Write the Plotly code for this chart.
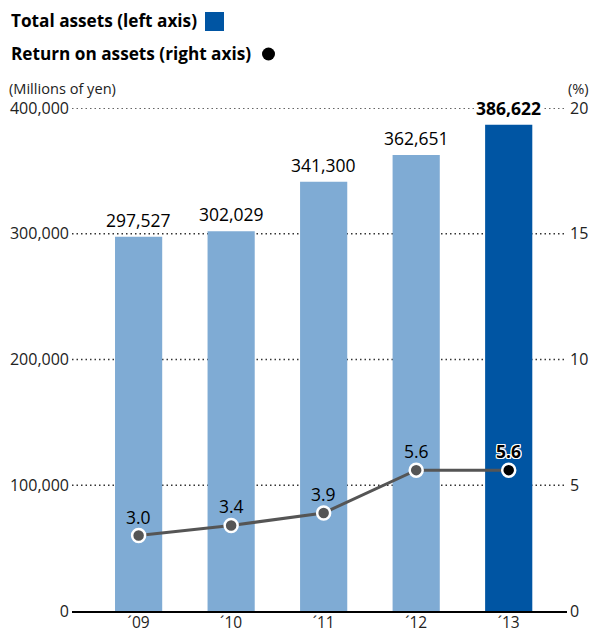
import plotly.graph_objects as go

# Fiscal years and figures
years = ["\u00b409", "\u00b410", "\u00b411", "\u00b412", "\u00b413"]
total_assets = [297527, 302029, 341300, 362651, 386622]   # millions of yen
roa = [3.0, 3.4, 3.9, 5.6, 5.6]                           # percent
left_ticks = [0, 100000, 200000, 300000, 400000]
right_ticks = [0, 5, 10, 15, 20]

FONT = "Open Sans"
LIGHT = "#7FABD4"
DARK = "#0055A3"
LINE = "#555555"

bar_colors = [LIGHT] * (len(years) - 1) + [DARK]
marker_colors = [LINE] * (len(years) - 1) + ["#000000"]

fig = go.Figure()
fig.add_trace(go.Bar(
    x=years, y=total_assets, marker=dict(color=bar_colors, line=dict(width=0)),
    width=0.51, hoverinfo="skip", showlegend=False,
))
fig.add_trace(go.Scatter(
    x=years, y=roa, yaxis="y2", mode="lines+markers",
    line=dict(color=LINE, width=3),
    marker=dict(color=marker_colors, size=13, line=dict(color="white", width=2.5)),
    hoverinfo="skip", showlegend=False, cliponaxis=False,
))

annotations = []
last = len(years) - 1
for i, (yr, v) in enumerate(zip(years, total_assets)):
    annotations.append(dict(
        x=yr, y=v, xref="x", yref="y", text=f"{v:,}", showarrow=False,
        yanchor="middle", yshift=17,
        font=dict(family=FONT, size=17.5, color="#000000",
                  weight="bold" if i == last else "normal"),
        bgcolor="white" if i == last else "rgba(0,0,0,0)",
    ))
halo = "1px 1px 0 #fff, -1px -1px 0 #fff, 1px -1px 0 #fff, -1px 1px 0 #fff, 0 1px 0 #fff, 0 -1px 0 #fff, 1px 0 0 #fff, -1px 0 0 #fff"
for i, (yr, v) in enumerate(zip(years, roa)):
    annotations.append(dict(
        x=yr, y=v, xref="x", yref="y2", text=f"{v:.1f}", showarrow=False,
        yanchor="middle", yshift=19,
        font=dict(family=FONT, size=17.5, color="#000000",
                  weight="bold" if i == last else "normal",
                  shadow=halo if i == last else "none"),
    ))

# Legend lines and unit captions
annotations += [
    dict(x=9, y=21, xref="paper", yref="paper", text="<b>Total assets (left axis)</b>",
         showarrow=False, xanchor="left", yanchor="middle",
         font=dict(family=FONT, size=17.2, color="#000")),
    dict(x=9, y=54, xref="paper", yref="paper", text="<b>Return on assets (right axis)</b>",
         showarrow=False, xanchor="left", yanchor="middle",
         font=dict(family=FONT, size=17.2, color="#000")),
    dict(x=7, y=88, xref="paper", yref="paper", text="(Millions of yen)",
         showarrow=False, xanchor="left", yanchor="middle",
         font=dict(family=FONT, size=14.6, color="#222")),
    dict(x=591, y=88, xref="paper", yref="paper", text="(%)",
         showarrow=False, xanchor="right", yanchor="middle",
         font=dict(family=FONT, size=14.6, color="#222")),
]

# paper coordinates are converted from pixel positions below
W, H = 597, 635
ML, MR, MT, MB = 72, 30, 108, 24
PW, PH = W - ML - MR, H - MT - MB


def px_x(p):
    return (p - ML) / PW


def px_y(p):
    return (H - MB - p) / PH


for a in annotations:
    if a["xref"] == "paper":
        a["x"] = px_x(a["x"])
        a["y"] = px_y(a["y"])

shapes = [
    dict(type="rect", xref="paper", yref="paper",
         x0=px_x(205), x1=px_x(224), y0=px_y(31), y1=px_y(12),
         fillcolor=DARK, line=dict(width=0)),
    dict(type="circle", xref="paper", yref="paper",
         x0=px_x(262), x1=px_x(275), y0=px_y(60.5), y1=px_y(47.5),
         fillcolor="#000", line=dict(width=0)),
]
# dotted gridlines behind the bars
for t in left_ticks[1:]:
    shapes.append(dict(type="line", xref="paper", yref="y", x0=0, x1=1, y0=t, y1=t,
                       layer="below", line=dict(color="#333", width=1.5, dash="1.5px,3px")))

tickfont = dict(family=FONT, size=16, color="#222")
fig.update_layout(
    width=W, height=H, margin=dict(l=ML, r=MR, t=MT, b=MB, pad=0, autoexpand=False),
    paper_bgcolor="white", plot_bgcolor="white",
    xaxis=dict(type="category", range=[-0.72, 4.63], showgrid=False,
               showline=True, linecolor="#000", linewidth=1.5, automargin=False,
               ticks="", tickfont=dict(family=FONT, size=15.5, color="#222"),
               ticklabelstandoff=-3, fixedrange=True),
    yaxis=dict(range=[0, 400000], tickvals=left_ticks,
               ticktext=[f"{t:,}" for t in left_ticks], automargin=False,
               showgrid=False, zeroline=False, ticks="", tickfont=tickfont,
               ticklabelstandoff=2),
    yaxis2=dict(range=[0, 20], tickvals=right_ticks, overlaying="y", side="right",
                showgrid=False, zeroline=False, ticks="", tickfont=tickfont,
                automargin=False, ticklabelstandoff=2),
    annotations=annotations, shapes=shapes,
)

fig.write_html("out.html")
